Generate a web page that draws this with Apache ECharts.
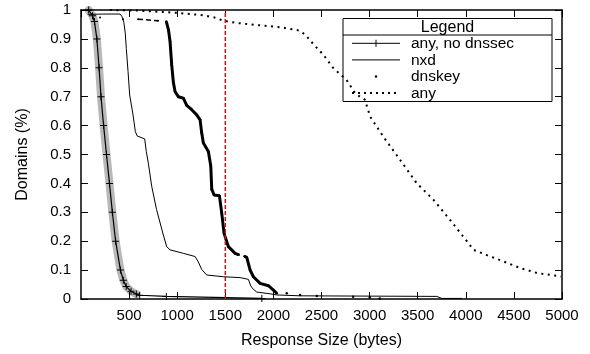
<!DOCTYPE html>
<html><head><meta charset="utf-8">
<script src="https://cdn.jsdelivr.net/npm/echarts@6/dist/echarts.min.js"></script>
<style>html,body{margin:0;padding:0;background:#fff}#c{width:590px;height:354px}</style>
</head><body><div id="c"></div>
<script>
// ---- texts ----
const xTitle = 'Response Size (bytes)';
const yTitle = 'Domains (%)';
const legendTitle = 'Legend';
const seriesNames = ['any, no dnssec', 'nxd', 'dnskey', 'any'];
// ---- axes ----
const xRange = [0, 5000], xStep = 500;
const yRange = [0, 1], yStep = 0.1;
const refLineX = 1500;
// ---- data [size, fraction] ----
const anyNoDnssec = [[80,1.0],[120,0.98],[140,0.96],[165,0.90],[188,0.80],[208,0.70],[235,0.60],[265,0.50],[296,0.40],[326,0.30],[360,0.20],[410,0.10],[440,0.065],[470,0.043],[520,0.027],[575,0.017],[610,0.013],[887,0.009],[1880,0.002]];
const nxd = [[70,0.985],[250,0.986],[405,0.986],[425,0.978],[445,0.958],[460,0.92],[471,0.867],[489,0.787],[506,0.706],[541,0.637],[565,0.579],[585,0.564],[662,0.554],[679,0.51],[700,0.47],[735,0.39],[785,0.31],[853,0.225],[891,0.181],[926,0.17],[1064,0.158],[1186,0.147],[1220,0.128],[1255,0.102],[1307,0.083],[1480,0.077],[1654,0.074],[1740,0.068],[1765,0.045],[1790,0.034],[1827,0.024],[1966,0.018],[2035,0.014],[2278,0.011],[3000,0.010],[3699,0.009],[3751,0.002],[3960,0.002]];
const dnskeyHead = [[198,0.974],null,[437,0.968],null,[593,0.968],[801,0.963]];
const dnskey = [[887,0.96],[910,0.93],[926,0.89],[943,0.81],[960,0.75],[978,0.717],[1012,0.70],[1064,0.695],[1099,0.67],[1151,0.655],[1203,0.637],[1238,0.62],[1255,0.574],[1272,0.54],[1324,0.51],[1349,0.46],[1359,0.38],[1383,0.36],[1439,0.357],[1463,0.297],[1487,0.227],[1532,0.181],[1602,0.158],[1640,0.153],null,[1700,0.148],[1723,0.144],[1758,0.10],[1792,0.077],[1862,0.054],[1948,0.046],[2000,0.031],[2035,0.02],null,[2139,0.02],null,[2278,0.014],null,[2451,0.01],null,[2829,0.008],null,[3002,0.006],null,[3106,0.002]];
const anyAll = [[300,1.0],[600,0.998],[1000,0.99],[1240,0.983],[1380,0.975],[1480,0.963],[1600,0.956],[1760,0.95],[1930,0.945],[2100,0.939],[2270,0.929],[2330,0.915],[2420,0.88],[2520,0.845],[2620,0.80],[2760,0.758],[2850,0.712],[2900,0.70],[2950,0.69],[3006,0.631],[3144,0.561],[3318,0.481],[3491,0.40],[3665,0.343],[3838,0.273],[4011,0.20],[4080,0.17],[4219,0.152],[4392,0.13],[4566,0.107],[4739,0.09],[4990,0.078]];

const FONT = '"Liberation Sans", Arial, Helvetica, sans-serif';
const PLUS = 'path://M3,0h1v3h3v1h-3v3h-1v-3h-3v-1h3z';
const chart = echarts.init(document.getElementById('c'), null, {renderer: 'canvas'});

const axisLineStyle = {color: '#000', width: 1.5};
function xAxisDef(pos, show) {
  return {type: 'value', position: pos, min: xRange[0], max: xRange[1], interval: xStep,
    name: show ? xTitle : '', nameLocation: 'middle', nameGap: 34,
    nameTextStyle: {fontFamily: FONT, fontSize: 16, color: '#000'},
    axisLine: {show: true, onZero: false, lineStyle: axisLineStyle},
    axisTick: {show: true, inside: true, length: 7, lineStyle: {color: '#000', width: 1}},
    axisLabel: {show: show, showMinLabel: false, margin: 9, fontFamily: FONT, fontSize: 15, color: '#000',
      formatter: v => String(v)},
    splitLine: {show: false}};
}
function yAxisDef(pos, show) {
  return {type: 'value', position: pos, min: yRange[0], max: yRange[1], interval: yStep,
    name: show ? yTitle : '', nameLocation: 'middle', nameGap: 50,
    nameTextStyle: {fontFamily: FONT, fontSize: 16, color: '#000'},
    axisLine: {show: true, onZero: false, lineStyle: axisLineStyle},
    axisTick: {show: true, inside: true, length: 7, lineStyle: {color: '#000', width: 1}},
    axisLabel: {show: show, margin: 10, fontFamily: FONT, fontSize: 15, color: '#000'},
    splitLine: {show: false}};
}

// legend drawn as graphic
const LX = 343, LY = 18.5, LW = 209, LH = 83, HEAD = 16.5, ROW = 16.6;
const rowY = i => LY + HEAD + ROW * (i + 0.5);
const sx0 = 352, sx1 = 400, tx = 411;
const g = [
  {type: 'rect', shape: {x: LX, y: LY, width: LW, height: LH}, style: {fill: 'none', stroke: '#000', lineWidth: 1}, z: 100},
  {type: 'line', shape: {x1: LX, y1: LY + HEAD, x2: LX + LW, y2: LY + HEAD}, style: {stroke: '#000', lineWidth: 1}, z: 100},
  {type: 'text', x: LX + LW / 2, y: LY + HEAD / 2 + 0.5, style: {text: legendTitle, font: '16px ' + FONT, fill: '#000', align: 'center', verticalAlign: 'middle'}, z: 100},
  {type: 'line', shape: {x1: sx0, y1: rowY(0), x2: sx1, y2: rowY(0)}, style: {stroke: '#000', lineWidth: 1}, z: 100},
  {type: 'line', shape: {x1: 376, y1: rowY(0) - 3.5, x2: 376, y2: rowY(0) + 3.5}, style: {stroke: '#000', lineWidth: 1}, z: 100},
  {type: 'line', shape: {x1: sx0, y1: rowY(1), x2: sx1, y2: rowY(1)}, style: {stroke: '#000', lineWidth: 1}, z: 100},
  {type: 'circle', shape: {cx: 376, cy: rowY(2), r: 1.2}, style: {fill: '#000'}, z: 100},
  {type: 'line', shape: {x1: sx0, y1: rowY(3), x2: sx1, y2: rowY(3)}, style: {stroke: '#000', lineWidth: 2, lineDash: [2, 4]}, z: 100}
];
seriesNames.forEach((n, i) => g.push({type: 'text', x: tx, y: rowY(i) + 0.5, style: {text: n, font: '15.5px ' + FONT, fill: '#000', align: 'left', verticalAlign: 'middle'}, z: 100}));

const halo = anyNoDnssec.filter(p => p[1] > 0.015);
const refLine = [[refLineX, yRange[0]], [refLineX, yRange[1]]];

chart.setOption({
  animation: false,
  backgroundColor: '#fff',
  grid: {left: 81, right: 28, top: 10, bottom: 55, containLabel: false},
  xAxis: [xAxisDef('bottom', true), xAxisDef('top', false)],
  yAxis: [yAxisDef('left', true), yAxisDef('right', false)],
  graphic: g,
  series: [
    {name: seriesNames[0] + ' halo', type: 'line', data: halo, showSymbol: false, symbol: 'none',
      lineStyle: {color: 'rgba(0,0,0,0.28)', width: 8, cap: 'round', join: 'round'}, z: 2, silent: true},
    {name: seriesNames[0], type: 'line', data: anyNoDnssec, symbol: PLUS, symbolSize: 7, showSymbol: true,
      itemStyle: {color: '#000'}, lineStyle: {color: '#000', width: 1.2}, z: 3},
    {name: seriesNames[1], type: 'line', data: nxd, symbol: 'none', lineStyle: {color: '#000', width: 1}, z: 3},
    {name: seriesNames[2] + ' head', type: 'line', data: dnskeyHead, connectNulls: false, symbol: 'circle', symbolSize: 2, showSymbol: true,
      itemStyle: {color: '#000'}, lineStyle: {color: '#000', width: 1.5, type: [5, 3]}, z: 3},
    {name: seriesNames[2], type: 'line', data: dnskey, connectNulls: false, symbol: 'circle', symbolSize: 2.5, showSymbol: true,
      itemStyle: {color: '#000'}, lineStyle: {color: '#000', width: 3}, z: 3},
    {name: seriesNames[3], type: 'line', data: anyAll, symbol: 'none', lineStyle: {color: '#000', width: 2, type: [2, 4.5]}, z: 3},
    {name: 'ref', type: 'line', data: refLine, symbol: 'none', silent: true, z: 6,
      itemStyle: {color: '#ff0000'}, lineStyle: {color: '#ff0000', width: 1.5, type: [4, 2]}}
  ]
});
</script></body></html>
